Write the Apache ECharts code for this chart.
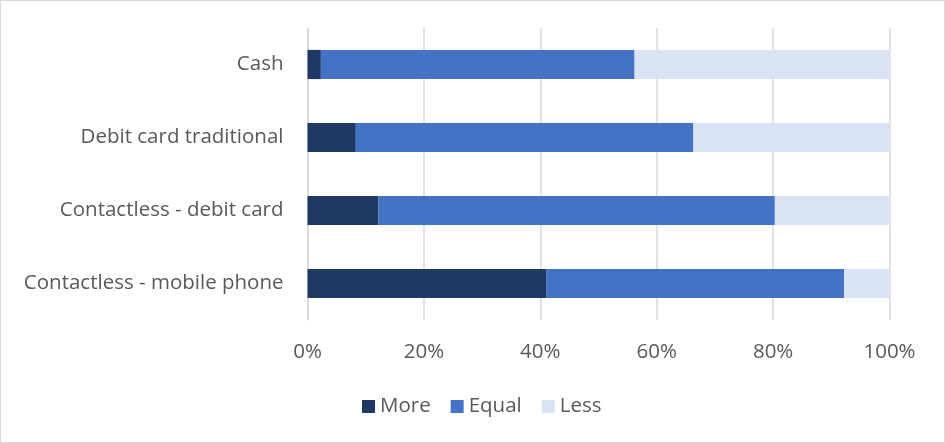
<!DOCTYPE html>
<html>
<head>
<meta charset="utf-8">
<script src="https://cdn.jsdelivr.net/npm/echarts@6/dist/echarts.min.js"></script>
<style>
html,body{margin:0;padding:0;background:#fff;}
#wrap{position:absolute;left:0;top:0;width:943px;height:441px;border:1px solid #d9d9d9;background:#fff;}
#chart{position:absolute;left:-1px;top:-1px;width:945px;height:443px;}
</style>
</head>
<body>
<div id="wrap"><div id="chart"></div></div>
<script>
const categories = ["Cash", "Debit card traditional", "Contactless - debit card", "Contactless - mobile phone"];
const seriesNames = ["More", "Equal", "Less"];
const moreValues = [2.3, 8.3, 12.2, 41.0];
const equalValues = [53.9, 58.0, 68.1, 51.2];
const lessValues = [43.8, 33.7, 19.7, 7.8];
const xTicks = [0, 20, 40, 60, 80, 100];

const colors = ["#203864", "#4472C4", "#DAE3F3"];
const font = "Open Sans";
const textColor = "#595959";
const fs = 20.5;

const chart = echarts.init(document.getElementById('chart'), null, {renderer: 'canvas'});
const vals = [moreValues, equalValues, lessValues];
chart.setOption({
  animation: false,
  backgroundColor: 'transparent',
  grid: {left: 307.5, right: 55.5, top: 28, bottom: 123, containLabel: false},
  legend: {
    data: seriesNames,
    top: 391,
    left: 357,
    itemWidth: 13,
    itemHeight: 13,
    itemGap: 20,
    icon: 'rect',
    textStyle: {fontFamily: font, fontSize: fs, color: textColor}
  },
  xAxis: {
    type: 'value',
    min: xTicks[0],
    max: xTicks[xTicks.length - 1],
    interval: 20,
    axisLine: {show: false},
    axisTick: {show: false},
    splitLine: {show: true, lineStyle: {color: '#d9d9d9', width: 1.5}},
    axisLabel: {
      formatter: v => v + '%',
      fontFamily: font, fontSize: fs, color: textColor, margin: 22
    }
  },
  yAxis: {
    type: 'category',
    data: categories,
    inverse: true,
    axisLine: {show: true, lineStyle: {color: '#d9d9d9', width: 1.5}},
    axisTick: {show: false},
    axisLabel: {fontFamily: font, fontSize: fs, color: textColor, margin: 24}
  },
  series: seriesNames.map((n, i) => ({
    name: n,
    type: 'bar',
    stack: 'total',
    barCategoryGap: '60%',
    data: vals[i],
    itemStyle: {color: colors[i]}
  }))
});
</script>
</body>
</html>
